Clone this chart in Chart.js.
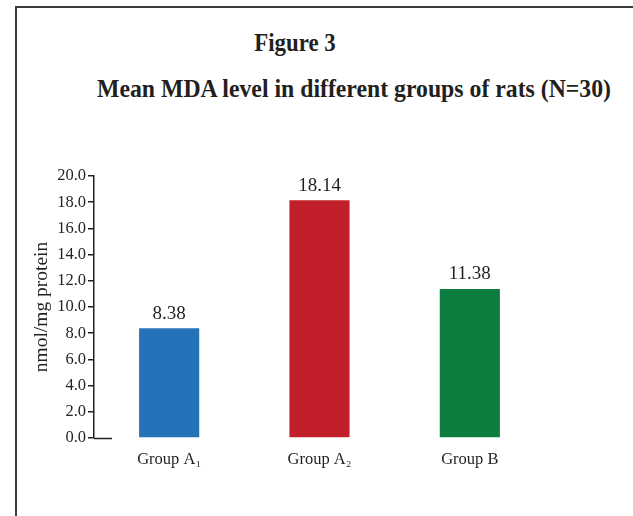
<!DOCTYPE html>
<html>
<head>
<meta charset="utf-8">
<script src="https://cdn.jsdelivr.net/npm/chart.js@4/dist/chart.umd.min.js"></script>
<style>
  html, body { margin: 0; padding: 0; background: #fff; }
  #wrap { position: relative; width: 633px; height: 516px; overflow: hidden; }
  #frame { position: absolute; left: 15px; top: 6px; right: -4px; bottom: -4px;
           border-left: 2px solid #3a3a3a; border-top: 2px solid #3a3a3a; }
  .ttl { position: absolute; white-space: nowrap; font-family: "Liberation Serif", "Times New Roman", serif;
         font-weight: bold; color: #231f20; }
  #t1 { left: 295px; top: 43px; font-size: 26px; transform: translate(-50%, -50%) scaleX(0.88); }
  #t2 { left: 354px; top: 89px; font-size: 25px; transform: translate(-50%, -50%) scaleX(0.95); }
  canvas { position: absolute; left: 0; top: 0; }
</style>
</head>
<body>
<div id="wrap">
  <div id="frame"></div>
  <div class="ttl" id="t1">Figure 3</div>
  <div class="ttl" id="t2">Mean MDA level in different groups of rats (N=30)</div>
  <canvas id="c" width="633" height="516"></canvas>
</div>
<script>
// Groups and their mean MDA values (nmol/mg protein)
const categories = ["Group A\u2081", "Group A\u2082", "Group B"];
const mdaValues = [8.38, 18.14, 11.38];
const barColors = ["#2472b8", "#c1202b", "#0e7d40"];
const yTicks = [0, 2, 4, 6, 8, 10, 12, 14, 16, 18, 20];

const ink = "#231f20";
const serif = "'Liberation Serif', 'Times New Roman', serif";

// value labels above each bar
const valueLabels = {
  id: "valueLabels",
  afterDatasetsDraw(chart) {
    const ctx = chart.ctx;
    const meta = chart.getDatasetMeta(0);
    ctx.save();
    ctx.font = "19px " + serif;
    ctx.fillStyle = ink;
    ctx.textAlign = "center";
    ctx.textBaseline = "bottom";
    meta.data.forEach((bar, i) => {
      ctx.fillText(mdaValues[i].toFixed(2), bar.x, bar.y - 5);
    });
    ctx.restore();
  }
};

// short baseline stub at zero, to the right of the value axis
const zeroStub = {
  id: "zeroStub",
  afterDraw(chart) {
    const y = chart.scales.y;
    const py = Math.round(y.getPixelForValue(0)) + 0.5;
    const ctx = chart.ctx;
    ctx.save();
    ctx.strokeStyle = ink;
    ctx.lineWidth = 1.5;
    ctx.beginPath();
    ctx.moveTo(y.right, py);
    ctx.lineTo(y.right + 18, py);
    ctx.stroke();
    ctx.restore();
  }
};

new Chart(document.getElementById("c"), {
  type: "bar",
  data: {
    labels: categories,
    datasets: [{
      data: mdaValues,
      backgroundColor: barColors,
      borderWidth: 0,
      barPercentage: 0.4,
      categoryPercentage: 1.0
    }]
  },
  options: {
    responsive: false,
    animation: false,
    layout: { padding: { left: 30, right: 88, top: 176, bottom: 0 } },
    plugins: { legend: { display: false }, tooltip: { enabled: false } },
    scales: {
      x: {
        grid: { display: false, drawTicks: false },
        border: { display: false },
        ticks: { color: ink, font: { family: serif, size: 16.5 }, padding: 12 },
        afterFit(s) { s.height = 78; }
      },
      y: {
        min: 0, max: 20,
        afterBuildTicks(s) { s.ticks = yTicks.map(v => ({ value: v })); },
        grid: { drawOnChartArea: false, drawTicks: true, tickLength: 6, color: ink, lineWidth: 1.5 },
        border: { display: true, color: ink, width: 1.5 },
        ticks: { color: ink, font: { family: serif, size: 16.5 }, padding: 2,
                 callback: v => Number(v).toFixed(1) },
        title: { display: true, text: "nmol/mg protein", color: ink,
                 font: { family: serif, size: 19.5 }, padding: { top: 0, bottom: 2 } },
        afterFit(s) { s.width = 64; }
      }
    }
  },
  plugins: [valueLabels, zeroStub]
});
</script>
</body>
</html>
